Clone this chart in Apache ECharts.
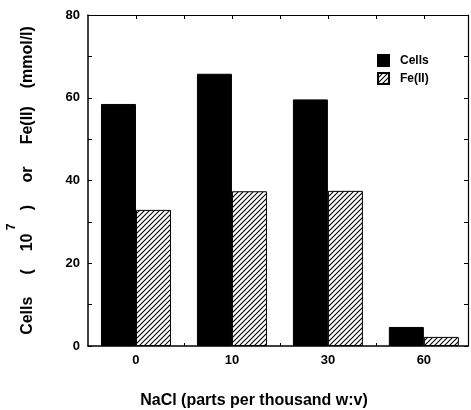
<!DOCTYPE html>
<html>
<head>
<meta charset="utf-8">
<script src="https://cdn.jsdelivr.net/npm/echarts@6/dist/echarts.min.js"></script>
<style>
  html, body { margin: 0; padding: 0; background: #fff; }
  #chart { width: 471px; height: 410px; }
</style>
</head>
<body>
<div id="chart"></div>
<script>
// NaCl concentration groups and the two measured series
var categories = ['0', '10', '30', '60'];
var cells = [58.5, 65.8, 59.6, 4.6];
var fe = [32.9, 37.4, 37.5, 2.2];
var yLabels = [0, 20, 40, 60, 80];

var font = 'Liberation Sans, Arial, sans-serif';

// diagonal hatch for the Fe(II) bars
var hatch = document.createElement('canvas');
hatch.width = 5;
hatch.height = 5;
var hc = hatch.getContext('2d');
hc.fillStyle = '#fff';
hc.fillRect(0, 0, 5, 5);
hc.strokeStyle = '#000';
hc.lineWidth = 1.1;
hc.beginPath();
hc.moveTo(-1, 6); hc.lineTo(6, -1);
hc.moveTo(-1, 1); hc.lineTo(1, -1);
hc.moveTo(4, 6); hc.lineTo(6, 4);
hc.stroke();

var xMin = -0.5, xMax = 3.46;
var topTicks = [];
for (var t = 0; t <= categories.length - 1; t += 0.5) topTicks.push(t);
var gapTicks = categories.slice(1).map(function (c, i) { return i + 0.5; });

var chart = echarts.init(document.getElementById('chart'));
chart.setOption({
    backgroundColor: '#fff',
    animation: false,
    grid: { left: 88, right: 3, top: 15, bottom: 64, outerBoundsMode: 'none' },
    legend: {
        orient: 'vertical',
        left: 372,
        top: 49,
        itemWidth: 11,
        itemHeight: 11,
        itemGap: 5,
        icon: 'rect',
        textStyle: { fontFamily: font, fontWeight: 'bold', fontSize: 12, color: '#000', padding: [0, 0, 0, 6] },
        data: ['Cells', 'Fe(II)']
    },
    xAxis: [
        {
            type: 'value',
            position: 'bottom',
            min: xMin,
            max: xMax,
            splitLine: { show: false },
            axisLine: { onZero: false, lineStyle: { color: '#000', width: 1.5 } },
            axisTick: { inside: true, length: 3, customValues: gapTicks, lineStyle: { color: '#000' } },
            axisLabel: {
                customValues: categories.map(function (c, i) { return i; }),
                formatter: function (v) { return categories[Math.round(v)]; },
                fontFamily: font, fontWeight: 'bold', fontSize: 13, color: '#000', margin: 8
            },
            name: 'NaCl (parts per thousand w:v)',
            nameLocation: 'middle',
            nameGap: 47,
            nameTextStyle: { fontFamily: font, fontWeight: 'bold', fontSize: 16, color: '#000', padding: [0, 48, 0, 0] }
        },
        {
            type: 'value',
            position: 'top',
            min: xMin,
            max: xMax,
            splitLine: { show: false },
            axisLine: { onZero: false, lineStyle: { color: '#000', width: 1.2 } },
            axisTick: { inside: true, length: 4, customValues: topTicks, lineStyle: { color: '#000' } },
            axisLabel: { show: false }
        }
    ],
    yAxis: [
        {
            type: 'value',
            min: 0,
            max: 80,
            interval: 10,
            splitLine: { show: false },
            axisLine: { show: true, onZero: false, lineStyle: { color: '#000', width: 1.5 } },
            axisTick: { show: true, inside: true, length: 4, lineStyle: { color: '#000' } },
            axisLabel: {
                customValues: yLabels,
                fontFamily: font, fontWeight: 'bold', fontSize: 13, color: '#000', margin: 8
            },
            name: '{a|Cells     (    10}{s| 7}{a|   )     or     Fe(II)    (mmol/l)}',
            nameLocation: 'middle',
            nameRotate: 90,
            nameGap: 52,
            nameTextStyle: {
                rich: {
                    a: { fontFamily: font, fontWeight: 'bold', fontSize: 16, color: '#000', lineHeight: 30, verticalAlign: 'bottom' },
                    s: { fontFamily: font, fontWeight: 'bold', fontSize: 12, color: '#000', lineHeight: 30, verticalAlign: 'top' }
                }
            }
        },
        {
            type: 'value',
            position: 'right',
            min: 0,
            max: 80,
            interval: 10,
            splitLine: { show: false },
            axisLine: { show: true, onZero: false, lineStyle: { color: '#000', width: 1.2 } },
            axisTick: { show: true, inside: true, length: 4, lineStyle: { color: '#000' } },
            axisLabel: { show: false }
        }
    ],
    series: [
        {
            name: 'Cells',
            type: 'bar',
            xAxisIndex: 0,
            yAxisIndex: 0,
            barWidth: 35,
            barGap: '0%',
            itemStyle: { color: '#000', borderColor: '#000', borderWidth: 1 },
            data: cells.map(function (v, i) { return [i, v]; })
        },
        {
            name: 'Fe(II)',
            type: 'bar',
            xAxisIndex: 0,
            yAxisIndex: 0,
            barWidth: 35,
            barGap: '0%',
            itemStyle: { color: { image: hatch, repeat: 'repeat' }, borderColor: '#000', borderWidth: 1 },
            data: fe.map(function (v, i) { return [i, v]; })
        }
    ]
});
</script>
</body>
</html>
